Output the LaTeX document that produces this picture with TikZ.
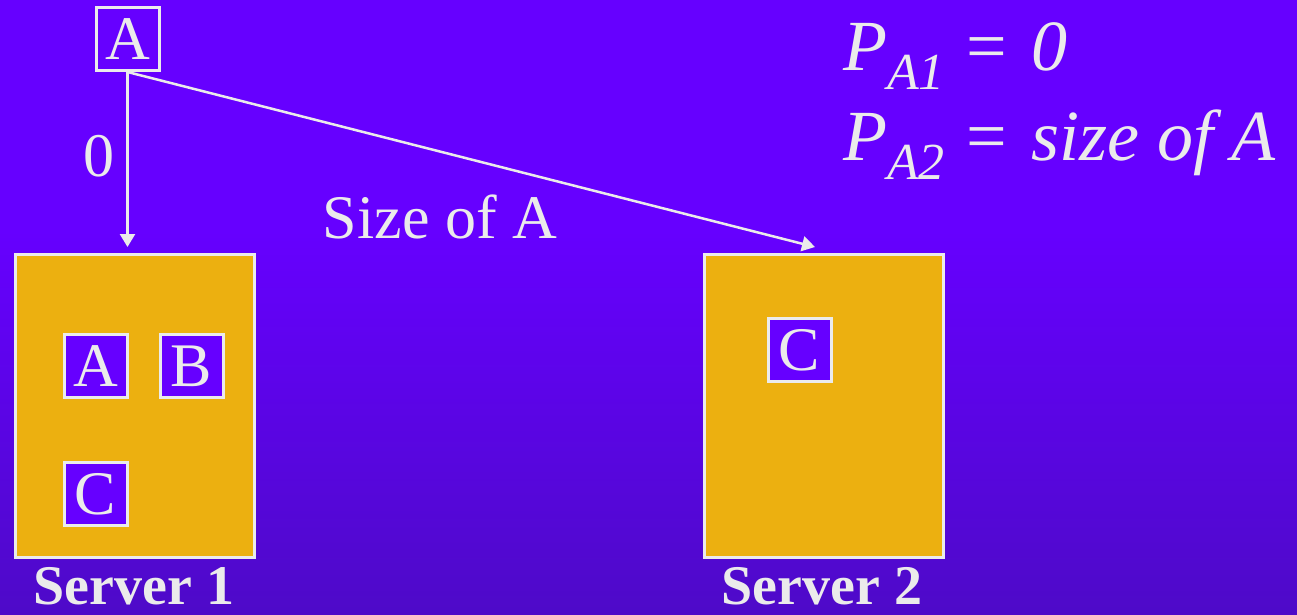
\documentclass[tikz,border=0pt]{standalone}
\usepackage{fontspec}
\setmainfont{Liberation Serif}
\usetikzlibrary{arrows.meta}
\definecolor{bgtop}{HTML}{6600FF}
\definecolor{bgbot}{HTML}{4E0AC8}
\definecolor{srv}{HTML}{ECB010}
\definecolor{ink}{HTML}{EBEBEB}
\tikzset{
  filebox/.style={draw=ink, line width=3pt, fill=bgtop, text=ink, minimum width=63pt, minimum height=63pt, inner sep=0pt, font=\fontsize{62}{62}\selectfont},
  srvbox/.style={draw=ink, line width=3pt, fill=srv, minimum width=239pt, minimum height=303pt, inner sep=0pt},
  srvlabel/.style={text=ink, inner sep=0pt, anchor=base, font=\fontsize{56}{56}\selectfont\bfseries},
  lbl/.style={text=ink, inner sep=0pt, anchor=base, font=\fontsize{62}{62}\selectfont},
  formula/.style={text=ink, inner sep=0pt, anchor=base west, font=\fontsize{72}{72}\selectfont},
  conn/.style={draw=ink, line width=2.5pt, -{Triangle[length=13pt,width=15pt]}},
}
\begin{document}
\begin{tikzpicture}[x=1pt,y=-1pt]
\useasboundingbox (0,0) rectangle (1297,615);
\fill[bgtop] (0,0) rectangle (1297,231);
\shade[top color=bgtop, bottom color=bgbot] (0,230) rectangle (1297,615);
% servers
\node[srvbox] (s1) at (135,406) {};
\node[srvbox] (s2) at (823.5,406) {};
\node[srvlabel] (s1l) at (134,604) {Server 1};
\node[srvlabel] (s2l) at (822,604) {Server 2};
% files
\node[filebox] (a0) at (127.5,39) {A};
\node[filebox] (a1) at (95.5,366) {A};
\node[filebox] (b1) at (191.5,366) {B};
\node[filebox] (c1) at (95.5,494) {C};
\node[filebox] (c2) at (799.5,350) {C};
% arrows
\coordinate (t1) at (127.5,247);
\coordinate (t2) at (815,247);
\draw[conn] (a0.south) -- (t1);
\draw[conn] (a0.south) -- (t2);
\node[lbl] (zero) at (99,176) {0};
\node[lbl] (size) at (440,238) {Size of A};
% formula
\node[formula] (f1) at (843,71)
  {\itshape P\raisebox{-19pt}{\fontsize{52}{52}\selectfont A1}\kern22pt{\upshape =}\kern24pt 0};
\node[formula] (f2) at (843,160)
  {\itshape P\raisebox{-19pt}{\fontsize{52}{52}\selectfont A2}\kern22pt{\upshape =}\kern24pt size of A};
\end{tikzpicture}
\end{document}
